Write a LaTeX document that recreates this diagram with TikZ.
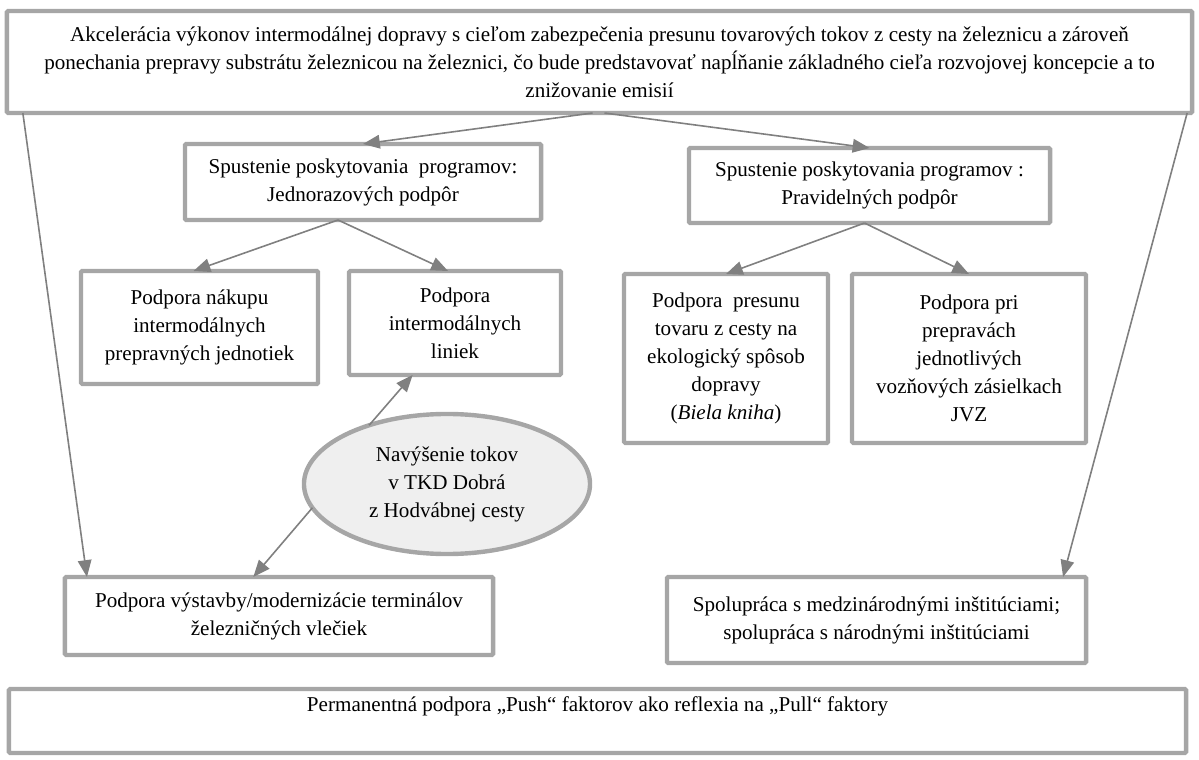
\documentclass[tikz,border=0pt]{standalone}
\usepackage{fontspec}
\setmainfont{Liberation Serif}
\usetikzlibrary{arrows.meta,shapes.geometric,calc}
\definecolor{boxgray}{HTML}{A6A6A6}
\definecolor{arrgray}{HTML}{808080}
\definecolor{ovalfill}{HTML}{EFEFEF}
\begin{document}
\begin{tikzpicture}[x=0.025cm,y=-0.025cm,
  box/.style={draw=boxgray,line width=0.11cm,rounded corners=1pt,fill=white,align=center,inner sep=0pt,outer sep=0pt,font=\fontsize{15}{19.9}\selectfont},
  oval/.style={ellipse,draw=boxgray,line width=0.11cm,fill=ovalfill,align=center,inner sep=0pt,outer sep=0pt,font=\fontsize{15}{19.9}\selectfont},
  arr/.style={draw=arrgray,line width=0.04cm,-{Triangle[length=0.42cm,width=0.34cm]}}]

\useasboundingbox (0,0) rectangle (1199,760);

\node[box,minimum width=29.625cm,minimum height=2.55cm] (top) at (599.5,62){Akcelerácia výkonov intermodálnej dopravy s cieľom zabezpečenia presunu tovarových tokov z cesty na železnicu a zároveň\\ponechania prepravy substrátu železnicou na železnici, čo bude predstavovať napĺňanie základného cieľa rozvojovej koncepcie a to\\znižovanie emisií};

\node[box,minimum width=8.9cm,minimum height=1.9cm] (jedno) at (363,182){Spustenie poskytovania~ programov:\\Jednorazových podpôr};
\node[box,minimum width=9.025cm,minimum height=1.875cm] (prav) at (869.5,185.5){Spustenie poskytovania programov :\\Pravidelných podpôr};

\node[box,minimum width=5.925cm,minimum height=2.825cm] (nakup) at (199.5,327.5){Podpora nákupu\\intermodálnych\\prepravných jednotiek};
\node[box,minimum width=5.3cm,minimum height=2.6cm] (liniek) at (455,323){Podpora\\intermodálnych\\liniek};
\node[box,minimum width=5.1cm,minimum height=4.225cm] (presun) at (726,358.5){Podpora~ presunu\\tovaru z cesty na\\ekologický spôsob\\dopravy\\(\textit{Biela kniha})};
\node[box,minimum width=5.85cm,minimum height=4.225cm] (pri) at (969,358.5){Podpora pri\\prepravách\\jednotlivých\\vozňových zásielkach\\JVZ};

\node[oval,minimum width=7.15cm,minimum height=3.5cm] (tkd) at (447,484){Navýšenie tokov\\v TKD Dobrá\\z Hodvábnej cesty};

\node[box,minimum width=10.7cm,minimum height=1.95cm] (vystavba) at (279,616){Podpora výstavby/modernizácie terminálov\\železničných vlečiek};
\node[box,minimum width=10.475cm,minimum height=2.15cm] (spolu) at (876.5,620){Spolupráca s medzinárodnými inštitúciami;\\spolupráca s národnými inštitúciami};

\node[box,anchor=north,minimum width=29.425cm,text height=0.56cm,text depth=1.04cm] (push) at (597.5,689){Permanentná podpora „Push“ faktorov ako reflexia na „Pull“ faktory};
%
\draw[arr] ($(top.south)+(-7,0)$) -- (jedno.north);
\draw[arr] ($(top.south)+(5,0)$) -- (prav.north);
\draw[arr] ($(jedno.south)+(-25,0)$) -- ($(nakup.north)+(-6,0)$);
\draw[arr] ($(jedno.south)+(-25,0)$) -- ($(liniek.north)+(-7,0)$);
\draw[arr] ($(prav.south)+(-5,0)$) -- (presun.north);
\draw[arr] ($(prav.south)+(-5,0)$) -- (pri.north);
%
\draw[arr] (tkd.143) -- ($(liniek.south west)!0.3!(liniek.south east)$);
\draw[arr] (tkd.190) -- ($(vystavba.north west)!0.44!(vystavba.north east)$);
\draw[arr] ($(top.south west)+(16,0)$) -- ($(vystavba.north west)+(22,0)$);
\draw[arr] ($(top.south east)+(-5,0)$) -- ($(spolu.north east)+(-23,0)$);
\end{tikzpicture}
\end{document}
